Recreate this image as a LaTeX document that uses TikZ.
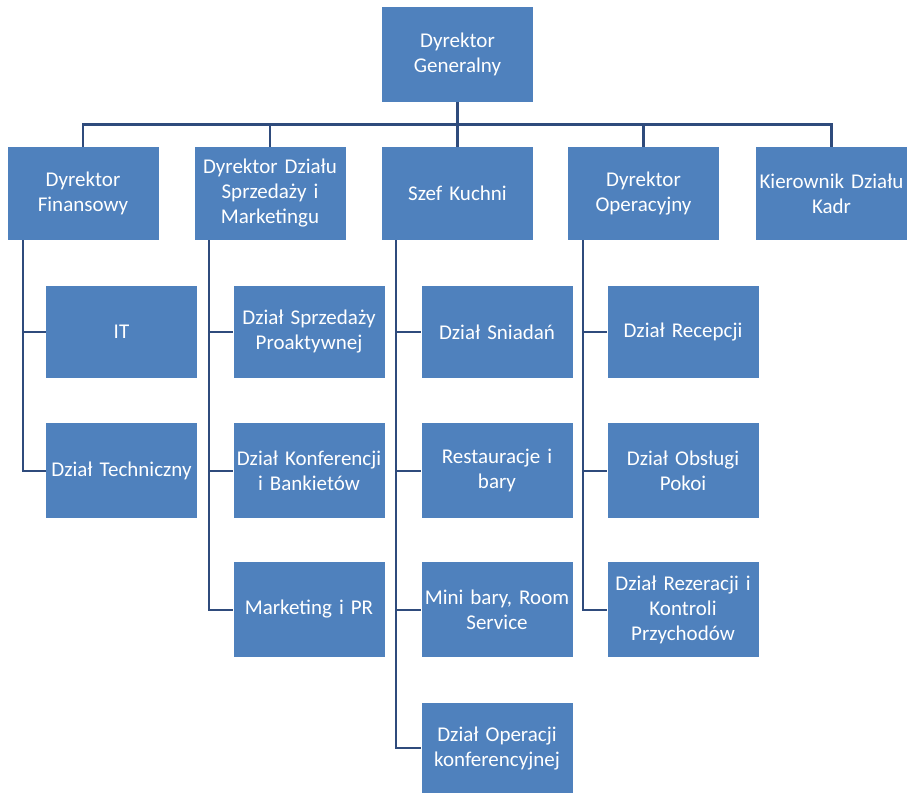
\documentclass[tikz,border=0pt]{standalone}
\usepackage{fontspec}
\setmainfont{Carlito}
\definecolor{boxblue}{HTML}{4F81BD}
\definecolor{linenavy}{HTML}{2F4B7C}
\begin{document}
\begin{tikzpicture}[x=1pt,y=-1pt,
  box/.style={draw=none,fill=boxblue,text=white,align=center,inner xsep=0.5pt,inner ysep=2pt,
    minimum width=151pt,text width=150pt,
    font=\fontsize{21}{25}\selectfont},
  bus/.style={draw=linenavy,line width=2.6pt},
  sub/.style={draw=linenavy,line width=2pt}]
\useasboundingbox (0,0) rectangle (911,793);
\fill[white] (0,0) rectangle (911,793);
% top
\node[box,minimum height=95pt] (gd) at (457.5,54.5) {Dyrektor\\Generalny};
% row 2
\node[box,minimum height=93pt] (df) at (83,193.5) {Dyrektor\\Finansowy};
\node[box,minimum height=93pt] (dsm) at (270,193.5) {Dyrektor Działu\\Sprzedaży i\\Marketingu};
\node[box,minimum height=93pt] (sk) at (457.5,193.5) {Szef Kuchni};
\node[box,minimum height=93pt] (do) at (643.5,193.5) {Dyrektor\\Operacyjny};
\node[box,minimum height=93pt] (kdk) at (831.5,193.5) {Kierownik Działu\\Kadr};
% children of df
\node[box,minimum height=92pt] (it) at (121.5,332) {IT};
\node[box,minimum height=95pt] (tech) at (121.5,470.5) {Dział Techniczny};
% children of dsm
\node[box,minimum height=92pt] (dsp) at (309,332) {Dział Sprzedaży\\Proaktywnej};
\node[box,minimum height=95pt] (dkb) at (309,470.5) {Dział Konferencji\\i Bankietów};
\node[box,minimum height=95pt] (mpr) at (309,609.5) {Marketing i PR};
% children of sk
\node[box,minimum height=92pt] (ds) at (497,332) {Dział Sniadań};
\node[box,minimum height=95pt] (rb) at (497,470.5) {Restauracje i\\bary};
\node[box,minimum height=95pt] (mb) at (497,609.5) {Mini bary, Room\\Service};
\node[box,minimum height=90pt] (dok) at (497,748) {Dział Operacji\\konferencyjnej};
% children of do
\node[box,minimum height=92pt] (dr) at (683,332) {Dział Recepcji};
\node[box,minimum height=95pt] (dop) at (683,470.5) {Dział Obsługi\\Pokoi};
\node[box,minimum height=95pt] (drk) at (683,609.5) {Dział Rezeracji i\\Kontroli\\Przychodów};
% bus from top
\foreach \c in {df,dsm,sk,do,kdk}
  \draw[bus] (gd.south) -- ++(0,-22pt) -| (\c.north);
% sub connectors
\foreach \c in {it,tech}
  \draw[sub] ([xshift=16pt]df.south west) |- (\c.west);
\foreach \c in {dsp,dkb,mpr}
  \draw[sub] ([xshift=15pt]dsm.south west) |- (\c.west);
\foreach \c in {ds,rb,mb,dok}
  \draw[sub] ([xshift=14pt]sk.south west) |- (\c.west);
\foreach \c in {dr,dop,drk}
  \draw[sub] ([xshift=15pt]do.south west) |- (\c.west);
\end{tikzpicture}
\end{document}
